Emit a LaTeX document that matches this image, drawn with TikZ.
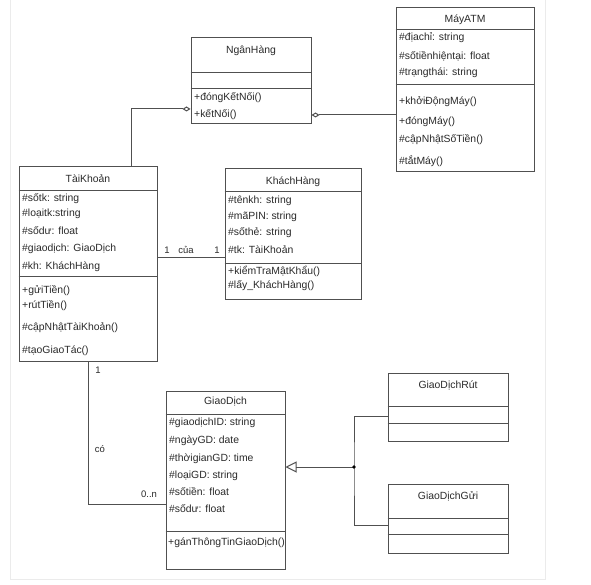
\documentclass[tikz,border=0pt]{standalone}
\usepackage{fontspec}
\setmainfont{Liberation Sans}
\usetikzlibrary{arrows.meta,calc}
\definecolor{ln}{HTML}{505050}
\definecolor{tx}{HTML}{2A2A2A}
\tikzset{
  cls/.style={draw=ln, line width=1pt, fill=white, inner sep=0pt},
  sep/.style={draw=ln, line width=1pt},
  conn/.style={draw=ln, line width=1pt},
  agg/.style={conn, -{Diamond[open, length=8pt, width=5pt]}},
  gen/.style={conn, -{Triangle[open, length=11pt, width=11pt]}},
  attr/.style={anchor=west, inner sep=0pt, text=tx, font=\fontsize{10.4}{12}\selectfont},
  cname/.style={anchor=center, inner sep=0pt, text=tx, font=\fontsize{10.4}{12}\selectfont},
  lbl/.style={anchor=center, inner sep=0pt, text=tx, font=\fontsize{9.5}{11}\selectfont},
}
\begin{document}
\begin{tikzpicture}[x=1pt,y=-1pt]
\path[fill=white, use as bounding box] (0,0) rectangle (591,585);
% faint screenshot frame
\draw[black!8, line width=1pt] (10,0) -- (10,579) -- (545,579) -- (545,0);

% ---- classes ----
\node[cls, minimum width=120pt, minimum height=86pt] (ngh) at (251,81) {};
\node[cls, minimum width=138pt, minimum height=164pt] (atm) at (465,90) {};
\node[cls, minimum width=138pt, minimum height=194pt] (tk) at (88,264) {};
\node[cls, minimum width=136pt, minimum height=130pt] (kh) at (293,234) {};
\node[cls, minimum width=119pt, minimum height=178pt] (gd) at (225.5,480) {};
\node[cls, minimum width=120pt, minimum height=68pt] (rut) at (448,407) {};
\node[cls, minimum width=120pt, minimum height=69pt] (gui) at (448,518.5) {};

% separators
\foreach \n/\a/\b in {ngh/35/51, atm/22/77, tk/24/110, kh/23/95, gd/24/141, rut/34/51, gui/35/51}{
  \draw[sep] ([yshift=-\a pt]\n.north west) -- ([yshift=-\a pt]\n.north east);
  \draw[sep] ([yshift=-\b pt]\n.north west) -- ([yshift=-\b pt]\n.north east);
}

% ---- NgânHàng ----
\node[cname] (nghN) at (251,51) {NgânHàng};
\node[attr] (nghM1) at (194,98) {+đóngKếtNối()};
\node[attr] (nghM2) at (194,115) {+kếtNối()};

% ---- MáyATM ----
\node[cname] (atmN) at (465,20) {MáyATM};
\node[attr] (atmA1) at (399,38) {\#địachỉ: string};
\node[attr] (atmA2) at (399,56) {\#sốtiềnhiệntại: float};
\node[attr] (atmA3) at (399,73) {\#trạngthái: string};
\node[attr] (atmM1) at (399,102) {+khởiĐộngMáy()};
\node[attr] (atmM2) at (399,122) {+đóngMáy()};
\node[attr] (atmM3) at (399,140) {\#cậpNhậtSốTiền()};
\node[attr] (atmM4) at (399,161) {\#tắtMáy()};

% ---- TàiKhoản ----
\node[cname] (tkN) at (88,179) {TàiKhoản};
\node[attr] (tkA1) at (22,199) {\#sốtk: string};
\node[attr] (tkA2) at (22,214) {\#loạitk:string};
\node[attr] (tkA3) at (22,231) {\#sốdư: float};
\node[attr] (tkA4) at (22,249) {\#giaodịch: GiaoDịch};
\node[attr] (tkA5) at (22,267) {\#kh: KháchHàng};
\node[attr] (tkM1) at (22,291) {+gửiTiền()};
\node[attr] (tkM2) at (22,306) {+rútTiền()};
\node[attr] (tkM3) at (22,328) {\#cậpNhậtTàiKhoản()};
\node[attr] (tkM4) at (22,351) {\#tạoGiaoTác()};

% ---- KháchHàng ----
\node[cname] (khN) at (293,182) {KháchHàng};
\node[attr] (khA1) at (228,201) {\#tênkh: string};
\node[attr] (khA2) at (228,217) {\#mãPIN: string};
\node[attr] (khA3) at (228,233) {\#sốthẻ: string};
\node[attr] (khA4) at (228,250) {\#tk: TàiKhoản};
\node[attr] (khM1) at (228,271) {+kiểmTraMậtKhẩu()};
\node[attr] (khM2) at (228,286) {\#lấy\_KháchHàng()};

% ---- GiaoDịch ----
\node[cname] (gdN) at (225.5,402) {GiaoDịch};
\node[attr] (gdA1) at (169,423) {\#giaodịchID: string};
\node[attr] (gdA2) at (169,441) {\#ngàyGD: date};
\node[attr] (gdA3) at (169,459) {\#thờigianGD: time};
\node[attr] (gdA4) at (169,476) {\#loạiGD: string};
\node[attr] (gdA5) at (169,492) {\#sốtiền: float};
\node[attr] (gdA6) at (169,509) {\#sốdư: float};
\node[attr] (gdM1) at (168,543) {+gánThôngTinGiaoDịch()};

% ---- GiaoDịchRút / Gửi ----
\node[cname] (rutN) at (448,385) {GiaoDịchRút};
\node[cname] (guiN) at (448,496) {GiaoDịchGửi};

% ---- connectors ----
\draw[agg] ([xshift=43pt]tk.north) |- ([yshift=-28pt]ngh.west);
\draw[agg] ([yshift=-25pt]atm.west) -- ([yshift=-25pt]atm.west -| ngh.east);

\draw[conn] ([yshift=7pt]tk.east) -- ([yshift=7pt]tk.east -| kh.west);
\node[lbl] (l1) at (167,250) {1};
\node[lbl] (lcua) at (186,250) {của};
\node[lbl] (l2) at (217,250) {1};

\draw[conn] (tk.south) |- ([yshift=-24pt]gd.west);
\node[lbl] (l3) at (98,370) {1};
\node[lbl] (lco) at (100,449) {có};
\node[lbl] (l4) at (149,494) {0..n};

\coordinate (j) at (354,467);
\draw[gen] (j) -- (j -| gd.east);
\draw[conn] ([yshift=-9pt]rut.west) -| (j) |- ([yshift=-6.5pt]gui.west);
\fill[black] (j) circle (1.8pt);
\end{tikzpicture}
\end{document}
